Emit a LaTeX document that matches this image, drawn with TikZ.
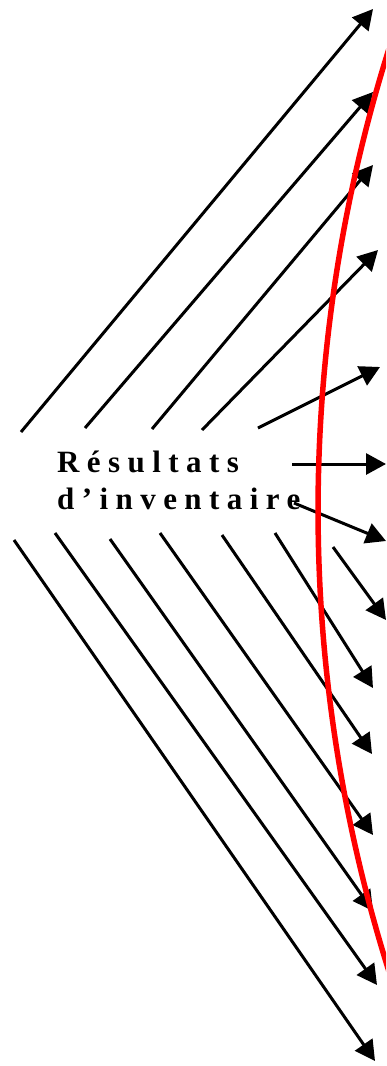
\documentclass[tikz,border=0pt]{standalone}
\usepackage{fontspec}
\setmainfont{Liberation Serif}
\newfontfamily\lblfont[LetterSpace=24]{Liberation Serif}
\usetikzlibrary{arrows.meta}
\begin{document}
\begin{tikzpicture}[x=1pt,y=-1pt,
  arr/.style={line width=3pt,-{Triangle[length=20pt,width=21pt]}},
  ring/.style={red,line width=5.5pt},
  lbl/.style={font=\lblfont\bfseries\fontsize{31}{36}\selectfont,inner sep=0pt,anchor=base west}]
\useasboundingbox (0,0) rectangle (386,1066);
\clip (0,0) rectangle (386,1066);
% labels
\node[lbl] (t1) at (57,472) {Résultats};
\node[lbl] (t2) at (57,509) {d’inventaire};
% upper arrows
\foreach \i/\sx/\sy/\ex/\ey in {1/21/432/373/9,2/85/428/373/92,3/152/429/373/165,4/202/430/378/250,5/258/428/380/367}{
  \coordinate (u\i) at (\sx,\sy);
  \coordinate (U\i) at (\ex,\ey);
  \draw[arr] (u\i) -- (U\i);
}
% middle arrows
\coordinate (h0) at (292,464);
\coordinate (H0) at (386,464);
\draw[arr] (h0) -- (H0);
\coordinate (d0) at (294,503);
\coordinate (D0) at (386,541);
\draw[arr] (d0) -- (D0);
% lower arrows
\foreach \i/\sx/\sy/\ex/\ey in {1/14/540/375/1061,2/55/533/377/985,3/110/539/373/911,4/160/533/373/835,5/222/535/372/754,6/275/533/373/688,7/333/547/386/620}{
  \coordinate (l\i) at (\sx,\sy);
  \coordinate (L\i) at (\ex,\ey);
  \draw[arr] (l\i) -- (L\i);
}
% red boundary
\coordinate (rc) at (1854,510);
\draw[ring] (rc) ++(197.5:1536) arc[start angle=197.5,end angle=162,radius=1536];
\end{tikzpicture}
\end{document}
